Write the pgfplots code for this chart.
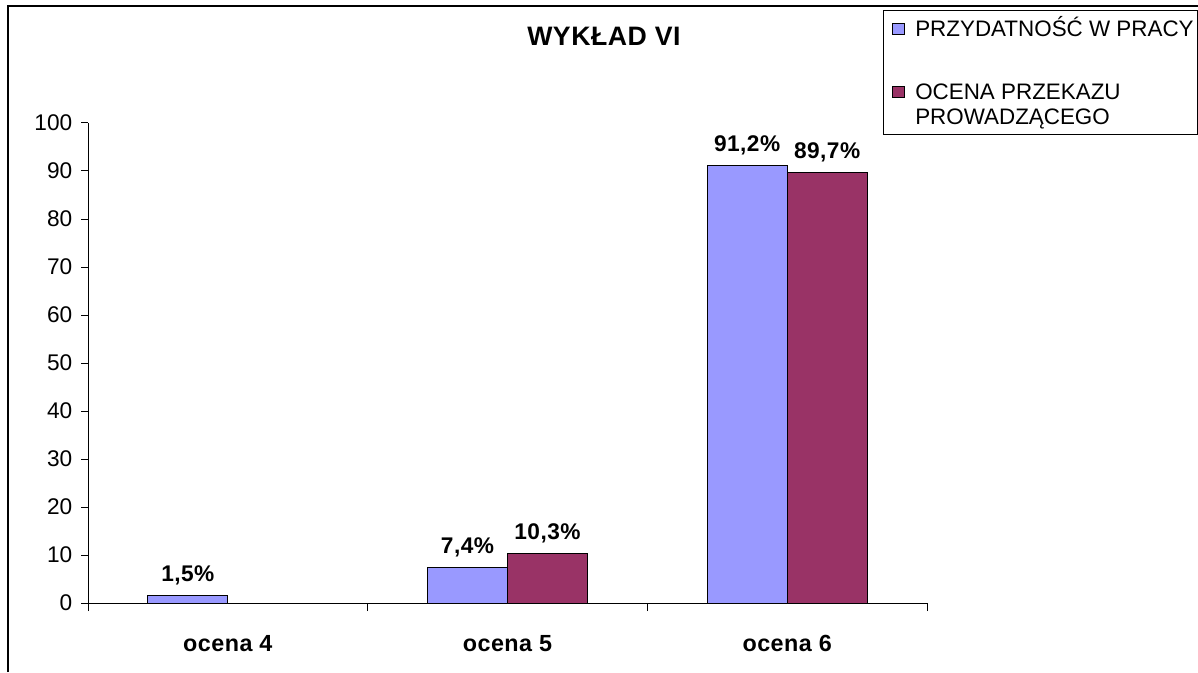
\documentclass[border=0pt]{standalone}
\usepackage{pgfplots}
\pgfplotsset{compat=1.18}
\usepackage{fontspec}
\setmainfont{Liberation Sans}
\newfontfamily\catfont[LetterSpace=2]{Liberation Sans}
\newfontfamily\labfont[LetterSpace=2]{Liberation Sans}
\definecolor{cblue}{HTML}{9999FF}
\definecolor{cred}{HTML}{993366}
\def\px{0.75pt}
\begin{document}
\begin{tikzpicture}
\useasboundingbox (0,0) rectangle (898.5pt,504pt);
\begin{axis}[
  at={(88*\px,69*\px)}, anchor=south west,
  scale only axis, width=629.25pt, height=360pt,
  ymin=0, ymax=100, xmin=-0.5, xmax=2.5,
  axis x line*=bottom, axis y line*=left,
  axis line style={-, black, line width=0.75pt},
  ybar=0pt, bar width=60pt,
  xtick={0,1,2}, xticklabels={ocena 4, ocena 5, ocena 6},
  major x tick style={draw=none},
  minor xtick={-0.5,0.5,1.5,2.5},
  ytick={0,10,...,100},
  tick align=outside,
  tick style={black, line width=0.75pt},
  major tick length=5.25pt, minor tick length=6pt,
  /pgf/number format/assume math mode=true,
  x tick label style={font=\catfont\bfseries\fontsize{17.5}{20}\selectfont, anchor=base, yshift=-30.75pt},
  y tick label style={font=\fontsize{17}{20}\selectfont, xshift=-3pt},
  title={WYKŁAD VI},
  title style={at={(axis description cs:0.615,1.1458)}, anchor=base, font=\labfont\bfseries\fontsize{20}{23}\selectfont},
  nodes near coords={\pgfmathprintnumber[fixed,fixed zerofill,precision=1,use comma]{\pgfplotspointmeta}\%},
  every node near coord/.append style={font=\labfont\bfseries\fontsize{17}{20}\selectfont, anchor=base, yshift=10.5pt, black},
]
\addplot[fill=cblue, draw=black, line width=0.75pt] coordinates {(0,1.5) (1,7.4) (2,91.2)};
\addplot[fill=cred, draw=black, line width=0.75pt] coordinates {(1,10.3) (2,89.7)};
\end{axis}
% outer frame (top and left edges visible)
\draw[line width=1.5pt] (8*\px,0) -- (8*\px,666*\px) -- (898.5pt,666*\px);
% legend
\draw[line width=0.75pt] (883*\px,{(672-135)*\px}) rectangle (1197*\px,{(672-11)*\px});
\draw[fill=cblue, line width=0.6pt] (892*\px,{(672-34)*\px}) rectangle (904*\px,{(672-23)*\px});
\node[anchor=base west, inner sep=0pt, font=\fontsize{16.8}{19}\selectfont] at (915*\px,{(672-37)*\px}) {PRZYDATNOŚĆ W PRACY};
\draw[fill=cred, line width=0.6pt] (892*\px,{(672-97)*\px}) rectangle (904*\px,{(672-86)*\px});
\node[anchor=base west, inner sep=0pt, font=\fontsize{16.8}{19}\selectfont] at (915*\px,{(672-100)*\px}) {OCENA PRZEKAZU};
\node[anchor=base west, inner sep=0pt, font=\fontsize{16.8}{19}\selectfont] at (915*\px,{(672-125)*\px}) {PROWADZĄCEGO};
\end{tikzpicture}
\end{document}
